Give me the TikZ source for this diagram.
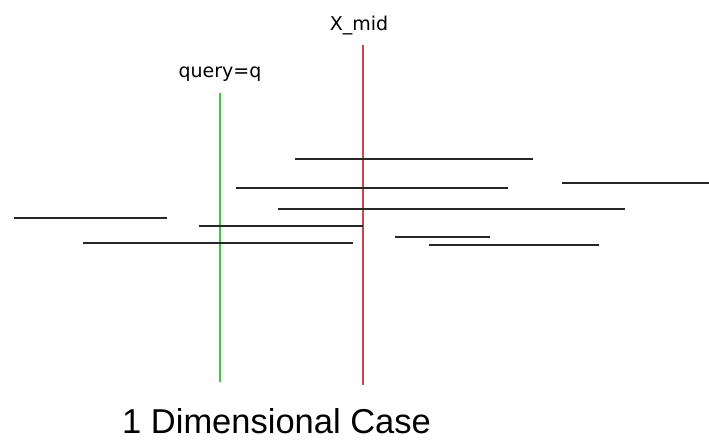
\documentclass[tikz,border=0pt]{standalone}
\usepackage{fontspec}
\setmainfont{Liberation Sans}
\newfontfamily\labelfont{DejaVu Sans}
\definecolor{qgreen}{RGB}{70,195,70}
\definecolor{mred}{RGB}{200,70,80}
\begin{document}
\begin{tikzpicture}[x=1pt,y=-1pt,
  seg/.style={draw=black!85,line width=2pt},
  qline/.style={draw=qgreen,line width=2pt},
  mline/.style={draw=mred,line width=2pt},
  lbl/.style={font=\labelfont\fontsize{19}{19}\selectfont,inner sep=0pt,anchor=base},
  ttl/.style={font=\fontsize{34.5}{36}\selectfont,inner sep=0pt,anchor=base west}]
\useasboundingbox (0,0) rectangle (709,439);
% labels
\node[lbl] (qlab) at (220,77) {query=q};
\node[lbl] (mlab) at (359,30) {X\_mid};
\node[ttl] (title) at (122,433) {1 Dimensional Case};
% vertical lines
\coordinate (qtop) at (220,93);
\coordinate (qbot) at (220,382);
\coordinate (mtop) at (363,45);
\coordinate (mbot) at (363,385);
\draw[qline] (qtop) -- (qbot);
\draw[mline] (mtop) -- (mbot);
% segments
\coordinate (a1) at (295,159); \coordinate (a2) at (533,159);
\coordinate (b1) at (236,188); \coordinate (b2) at (508,188);
\coordinate (c1) at (278,209); \coordinate (c2) at (625,209);
\coordinate (d1) at (14,218);  \coordinate (d2) at (167,218);
\coordinate (e1) at (199,226); \coordinate (e2) at (363,226);
\coordinate (f1) at (83,243);  \coordinate (f2) at (353,243);
\coordinate (g1) at (562,183); \coordinate (g2) at (709,183);
\coordinate (h1) at (395,237); \coordinate (h2) at (490,237);
\coordinate (i1) at (429,245); \coordinate (i2) at (599,245);
\foreach \s in {a,b,c,d,e,f,g,h,i}{\draw[seg] (\s1) -- (\s2);}
\end{tikzpicture}
\end{document}
